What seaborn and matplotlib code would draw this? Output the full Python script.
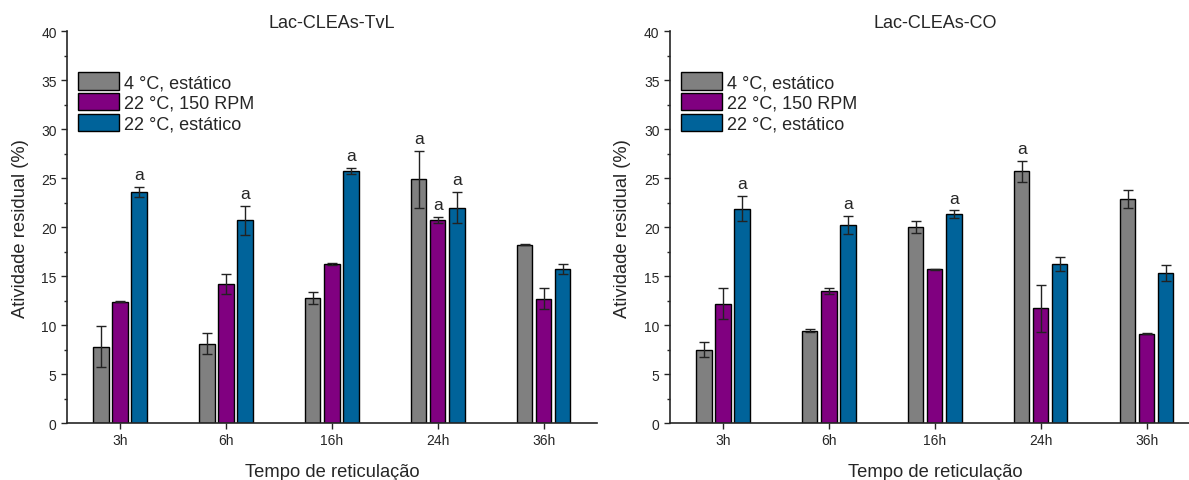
import matplotlib
matplotlib.use("Agg")
import matplotlib.pyplot as plt
import seaborn as sns
import pandas as pd
from matplotlib.ticker import MultipleLocator

categories = ["3h", "6h", "16h", "24h", "36h"]
series = ["4 °C, estático", "22 °C, 150 RPM", "22 °C, estático"]
colors = ["#808080", "#800080", "#00639A"]

tvl_gray = [7.8, 8.1, 12.8, 24.9, 18.2]
tvl_purple = [12.4, 14.2, 16.2, 20.7, 12.7]
tvl_blue = [23.6, 20.7, 25.7, 22.0, 15.7]
tvl_gray_err = [2.1, 1.1, 0.6, 2.9, 0.05]
tvl_purple_err = [0.05, 1.0, 0.1, 0.3, 1.1]
tvl_blue_err = [0.5, 1.5, 0.3, 1.6, 0.5]
tvl_marks = [[False, False, False, True, False],
             [False, False, False, True, False],
             [True, True, True, True, False]]

co_gray = [7.5, 9.4, 20.0, 25.7, 22.9]
co_purple = [12.2, 13.5, 15.7, 11.7, 9.1]
co_blue = [21.9, 20.2, 21.3, 16.2, 15.3]
co_gray_err = [0.8, 0.15, 0.6, 1.1, 0.9]
co_purple_err = [1.6, 0.3, 0.05, 2.4, 0.05]
co_blue_err = [1.3, 0.9, 0.4, 0.7, 0.8]
co_marks = [[False, False, False, True, False],
            [False, False, False, False, False],
            [True, True, True, False, False]]

sns.set_style("ticks")
plt.rcParams["font.family"] = ["Liberation Sans", "DejaVu Sans"]

fig = plt.figure(figsize=(11.89, 4.81), dpi=100)
ax1 = fig.add_axes([0.0564, 0.1185, 0.4455, 0.8145])
ax2 = fig.add_axes([0.5635, 0.1185, 0.4455, 0.8145])


def draw(ax, title, vals, errs, marks):
    rows = []
    for s, v in zip(series, vals):
        for c, x in zip(categories, v):
            rows.append({"cat": c, "series": s, "val": x})
    df = pd.DataFrame(rows)
    sns.barplot(data=df, x="cat", y="val", hue="series", order=categories,
                hue_order=series, palette=colors, width=0.54, gap=0.2,
                edgecolor="black", linewidth=1.0, errorbar=None, ax=ax,
                saturation=1)
    for cont, err, mk in zip(ax.containers, errs, marks):
        xs = [b.get_x() + b.get_width() / 2 for b in cont]
        hs = [b.get_height() for b in cont]
        ax.errorbar(xs, hs, yerr=err, fmt="none", ecolor="#222222",
                    elinewidth=1.0, capsize=3.5, capthick=1.0)
        for x, h, e, m in zip(xs, hs, err, mk):
            if m:
                ax.text(x, h + e + 0.5, "a", ha="center", va="bottom",
                        fontsize=12.5)
    ax.set_xlim(-0.5, 4.5)
    ax.set_ylim(0, 40)
    ax.yaxis.set_major_locator(MultipleLocator(5))
    ax.yaxis.set_minor_locator(MultipleLocator(2.5))
    ax.tick_params(axis="both", labelsize=10, length=4, width=1)
    ax.tick_params(axis="y", which="minor", length=2.5, width=1)
    ax.set_xlabel("Tempo de reticulação", fontsize=13.2, labelpad=11)
    ax.set_ylabel("Atividade residual (%)", fontsize=13.2, labelpad=9)
    ax.set_title(title, fontsize=13, pad=0.5)
    for sp in ["top", "right"]:
        ax.spines[sp].set_visible(False)
    for sp in ["left", "bottom"]:
        ax.spines[sp].set_linewidth(1.2)
    ax.legend(loc="upper left", bbox_to_anchor=(0.021, 0.895), frameon=False,
              fontsize=13, handlelength=2.25, handleheight=1.1,
              handletextpad=0.3, labelspacing=0.1, borderaxespad=0,
              borderpad=0)


draw(ax1, "Lac-CLEAs-TvL", [tvl_gray, tvl_purple, tvl_blue],
     [tvl_gray_err, tvl_purple_err, tvl_blue_err], tvl_marks)
draw(ax2, "Lac-CLEAs-CO", [co_gray, co_purple, co_blue],
     [co_gray_err, co_purple_err, co_blue_err], co_marks)

fig.savefig("out.png", dpi=100)
